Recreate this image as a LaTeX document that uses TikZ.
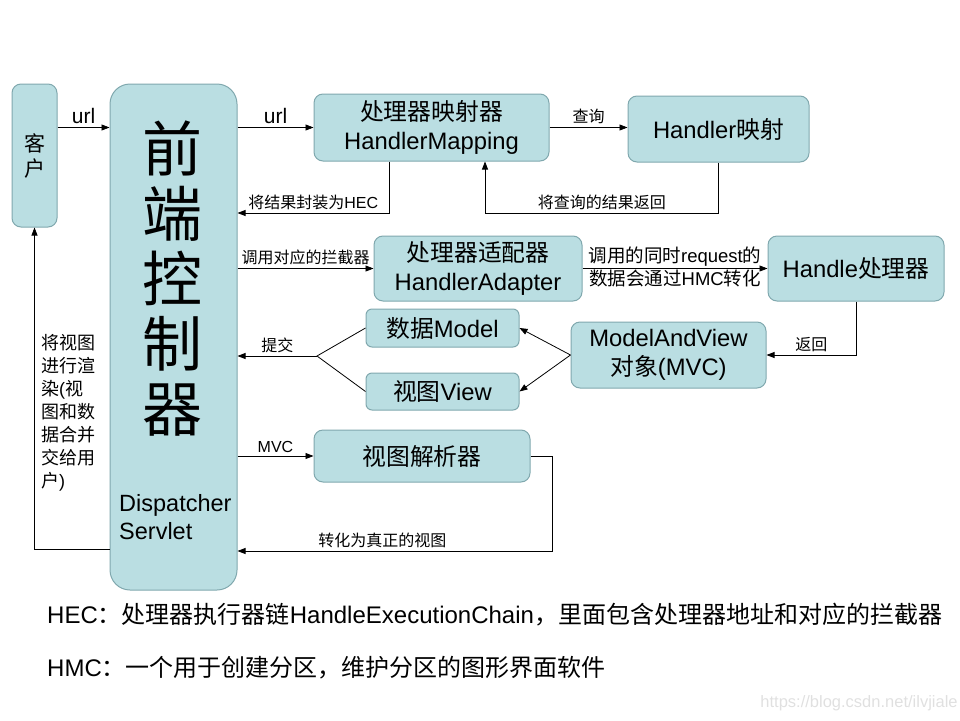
\documentclass[tikz,border=0pt]{standalone}
\usepackage{fontspec}
\setmainfont{Liberation Sans}
\newfontfamily\cjk{Noto Sans CJK SC}
\newcommand\zh[1]{{\cjk #1}}
\usetikzlibrary{arrows.meta}

\definecolor{boxfill}{RGB}{186,222,226}
\definecolor{boxline}{RGB}{128,168,174}

\tikzset{
  box/.style={draw=boxline, fill=boxfill, line width=1pt, rounded corners=9pt,
    inner sep=0pt, align=center, font=\fontsize{23.8}{29}\selectfont},
  arr/.style={-{Triangle[length=8pt,width=6pt]}, line width=0.8pt},
  lbl/.style={font=\fontsize{16}{18}\selectfont, inner sep=3pt},
}

\begin{document}
\begin{tikzpicture}[x=1pt,y=-1pt]
\useasboundingbox (0,0) rectangle (960,720);

% boxes
\node[box, minimum width=45, minimum height=143, font=\fontsize{21}{25}\selectfont\cjk] (client) at (34.5,155.5) {客\\户};
\node[box, minimum width=127, minimum height=506, rounded corners=20pt] (dispatcher) at (173.5,337) {};
\node[font=\fontsize{60}{65}\selectfont\cjk, align=center] (bigname) at (172,278.5) {前\\端\\控\\制\\器};
\node[anchor=west, align=left, inner sep=0pt, font=\fontsize{23.5}{28}\selectfont] (dsname) at (119,517) {Dispatcher\\Servlet};

\node[box, minimum width=235, minimum height=67] (mapper) at (431.5,127.5) {\zh{处理器映射器}\\HandlerMapping};
\node[box, minimum width=181, minimum height=66] (hmap) at (718.5,129) {Handler\zh{映射}};
\node[box, minimum width=208, minimum height=65] (adapter) at (478,268.5) {\zh{处理器适配器}\\HandlerAdapter};
\node[box, minimum width=176, minimum height=65] (handler) at (856,268.5) {Handle\zh{处理器}};
\node[box, minimum width=195, minimum height=66] (mav) at (668.5,355) {ModelAndView\\\zh{对象}(MVC)};
\node[box, minimum width=153, minimum height=38, rounded corners=6pt] (model) at (442.5,328) {\zh{数据}Model};
\node[box, minimum width=153, minimum height=37, rounded corners=6pt] (view) at (442.5,391.5) {\zh{视图}View};
\node[box, minimum width=216, minimum height=52] (resolver) at (422,456) {\zh{视图解析器}};

% connectors
\draw[arr] (client.east |- mapper.west) -- (dispatcher.west |- mapper.west) node[midway,above,font=\fontsize{21}{24}\selectfont] {url};
\draw[arr] (dispatcher.east |- mapper.west) -- (mapper.west) node[midway,above,font=\fontsize{21}{24}\selectfont] {url};
\draw[arr] (mapper.east) -- (hmap.west |- mapper.east) node[midway,above,lbl] {\zh{查询}};
\draw[arr] (hmap.south) -- ++(0,51) -| ([xshift=53.5]mapper.south) node[pos=0.25,above,lbl] {\zh{将查询的结果返回}};
\draw[arr] ([xshift=-42.5]mapper.south) |- (dispatcher.east |- 0,213) node[pos=0.75,above,lbl] {\zh{将结果封装为}HEC};

\draw[arr] (dispatcher.east |- adapter.west) -- (adapter.west) node[midway,above,lbl] {\zh{调用对应的拦截器}};
\draw[arr] (adapter.east) -- (handler.west)
  node[midway,above,lbl,inner sep=1.5pt,font=\fontsize{18.5}{20}\selectfont] {\zh{调用的同时}request\zh{的}}
  node[midway,below,lbl,inner sep=1.5pt,font=\fontsize{18.5}{20}\selectfont] {\zh{数据会通过}HMC\zh{转化}};
\draw[arr] (handler.south) |- (mav.east) node[pos=0.75,above,lbl] {\zh{返回}};
\draw[arr] (mav.west) -- (model.east);
\draw[arr] (mav.west) -- (view.east);

\coordinate (submit) at (317,356);
\draw[line width=0.8pt] (model.west) -- (submit) -- (view.west);
\draw[arr] (submit) -- (dispatcher.east |- submit) node[midway,above,lbl] {\zh{提交}};

\draw[arr] (dispatcher.east |- resolver.west) -- (resolver.west) node[midway,above,lbl] {MVC};
\draw[arr] (resolver.east) -- ++(22,0) |- (dispatcher.east |- 0,551) node[pos=0.77,above,lbl] {\zh{转化为真正的视图}};

\draw[arr] (dispatcher.west |- 0,549) -| (client.south);
\node[anchor=north west, align=left, inner sep=0pt, font=\fontsize{18}{23}\selectfont] (render) at (41,334)
  {\zh{将视图}\\\zh{进行渲}\\\zh{染}(\zh{视}\\\zh{图和数}\\\zh{据合并}\\\zh{交给用}\\\zh{户})};

% notes
\node[anchor=west, inner sep=0pt, font=\fontsize{24}{26}\selectfont] (notehec) at (47,615)
  {HEC\zh{：处理器执行器链}HandleExecutionChain\zh{，里面包含处理器地址和对应的拦截器}};
\node[anchor=west, inner sep=0pt, font=\fontsize{24}{26}\selectfont] (notehmc) at (47,668)
  {HMC\zh{：一个用于创建分区，维护分区的图形界面软件}};
\node[text=black!12, font=\fontsize{16.5}{18}\selectfont] (mark) at (859,703) {https://blog.csdn.net/ilvjiale};
\end{tikzpicture}
\end{document}
